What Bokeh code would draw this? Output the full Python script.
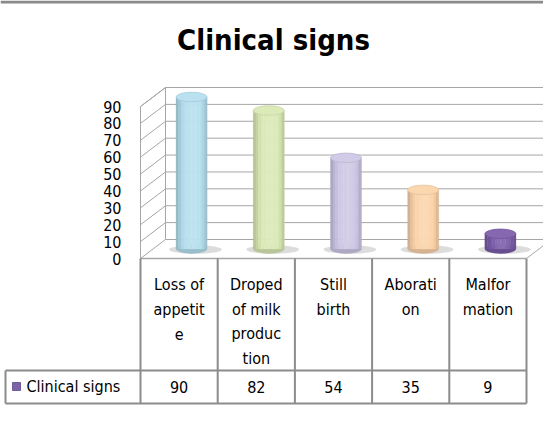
from bokeh.plotting import figure
from bokeh.models import Range1d, ColumnDataSource
from bokeh.core.properties import value
from bokeh.embed import file_html
from bokeh.resources import INLINE

# ---------------- data ----------------
title_text = "Clinical signs"
series_name = "Clinical signs"
categories = ["Loss of appetite", "Droped of milk production", "Still birth",
              "Aboration", "Malformation"]
label_lines = [["Loss of", "appetit", "e"],
               ["Droped", "of milk", "produc", "tion"],
               ["Still", "birth"],
               ["Aborati", "on"],
               ["Malfor", "mation"]]
values = [90, 82, 54, 35, 9]
y_ticks = [0, 10, 20, 30, 40, 50, 60, 70, 80, 90]
y_max = 90
bar_colors = ["#b4deee", "#d9e8b3", "#cdc6e5", "#fbd3a9", "#7a5ba8"]
legend_color = "#7d62a8"

# ---------------- layout helpers (pixel -> data units) ----------------
W, H = 543, 405
PX_COL = 77.2            # pixels per category column
PX_UNIT = 152.0 / 90.0   # pixels per value unit
X0, Y0 = 148.0, 266.0    # reference pixel of (col 0, value 0)


def X(rx):
    return (rx - X0) / PX_COL


def V(ry):
    return (Y0 - ry) / PX_UNIT


DX = 25.0 / PX_COL
DV = 19.0 / PX_UNIT
N = len(categories)
XR = N + DX

FONT = value("DejaVu Sans Condensed")
GRID = "#a6a6a6"
TABLE = "#8c8c8c"

p = figure(width=W, height=H, output_backend="svg", toolbar_location=None,
           x_range=Range1d(X(8), X(8 + W)), y_range=Range1d(V(8 + H), V(8)),
           min_border=0)
p.axis.visible = False
p.grid.visible = False
p.outline_line_color = None
p.background_fill_color = "white"
p.border_fill_color = "white"

# top rule
p.line([X(8), X(8 + W)], [V(9.5), V(9.5)], line_color="#8a8a8a", line_width=3)

# title
p.text(x=[X(281)], y=[V(47)], text=[title_text], text_font=FONT,
       text_font_style="bold", text_font_size="29px", text_align="center",
       text_baseline="middle", text_color="black")

# walls and gridlines
gx, gy = [], []
for t in y_ticks:
    gx.append([0, DX]); gy.append([t, t + DV])
    gx.append([DX, XR]); gy.append([t + DV, t + DV])
p.multi_line(gx, gy, line_color=GRID, line_width=1)
p.multi_line([[0, 0], [0, DX], [DX, DX], [DX, XR], [N, N + DX]],
             [[0, y_max], [y_max, y_max + DV], [DV, y_max + DV], [y_max + DV, y_max + DV], [0, DV]],
             line_color=GRID, line_width=1)
p.line([0, N], [0, 0], line_color=GRID, line_width=1.5)

# y tick labels
p.text(x=[X(129)] * len(y_ticks), y=y_ticks, text=[str(t) for t in y_ticks],
       text_font=FONT, text_font_size="16px", text_align="right",
       text_baseline="middle", text_color="black")

# cylinders
bw = 31.0 / PX_COL
eh = 9.5 / PX_UNIT
xc = [i + 0.5 + DX / 2 for i in range(N)]
vb = DV / 2
vt = [v + DV / 2 for v in values]


def mix(c, f):
    r, g, b = int(c[1:3], 16), int(c[3:5], 16), int(c[5:7], 16)
    if f >= 0:
        r, g, b = [int(round(x + (255 - x) * f)) for x in (r, g, b)]
    else:
        r, g, b = [int(round(x * (1 + f))) for x in (r, g, b)]
    return "#%02x%02x%02x" % (r, g, b)


# shadows
p.ellipse(x=[x + 0.05 for x in xc], y=[vb - 0.3] * N, width=bw * 1.7, height=eh * 0.9,
          fill_color="#c0c0c0", fill_alpha=0.55, line_color=None)

p.ellipse(x=xc, y=[vb] * N, width=bw, height=eh,
          fill_color=[mix(c, -0.15) for c in bar_colors], line_color=None)

NS = 12
profile = [-0.16, -0.09, -0.03, 0.03, 0.08, 0.12, 0.13, 0.12, 0.08, 0.03, -0.04, -0.12]
sx, sb, st, sc = [], [], [], []
for i in range(N):
    for k in range(NS):
        sx.append(xc[i] - bw / 2 + (k + 0.5) * bw / NS)
        sb.append(vb)
        st.append(vt[i])
        sc.append(mix(bar_colors[i], profile[k]))
src = ColumnDataSource(dict(x=sx, bottom=sb, top=st, color=sc))
p.vbar(x="x", bottom="bottom", top="top", width=bw / NS * 1.05, source=src,
       fill_color="color", line_color="color", line_width=0.3)

p.ellipse(x=xc, y=vt, width=bw, height=eh,
          fill_color=[mix(c, 0.08) for c in bar_colors],
          line_color=[mix(c, -0.08) for c in bar_colors], line_width=0.8)

# data table
row_top, row_bot = V(378), V(411)
x_left = X(13)
tx, ty = [], []
for i in range(N + 1):
    tx.append([i, i]); ty.append([0, row_bot])
tx.append([x_left, N]); ty.append([row_top, row_top])
tx.append([x_left, N]); ty.append([row_bot, row_bot])
tx.append([x_left, x_left]); ty.append([row_top, row_bot])
p.multi_line(tx, ty, line_color=TABLE, line_width=2)

lx, ly, lt = [], [], []
for i, lines in enumerate(label_lines):
    for j, s in enumerate(lines):
        lx.append(i + 0.5)
        ly.append(V(292 + j * 24.5))
        lt.append(s)
p.text(x=lx, y=ly, text=lt, text_font=FONT, text_font_size="16px",
       text_align="center", text_baseline="middle", text_color="black")

p.text(x=[i + 0.5 for i in range(N)], y=[V(394)] * N, text=[str(v) for v in values],
       text_font=FONT, text_font_size="16px", text_align="center",
       text_baseline="middle", text_color="black")

p.scatter(x=[X(24)], y=[V(394)], marker="square", size=8, fill_color=legend_color,
          line_color="#5a4785", line_width=0.8)
p.text(x=[X(34)], y=[V(394)], text=[series_name], text_font=FONT, text_font_size="16px",
       text_align="left", text_baseline="middle", text_color="black")

open("out.html", "w").write(file_html(p, INLINE))
